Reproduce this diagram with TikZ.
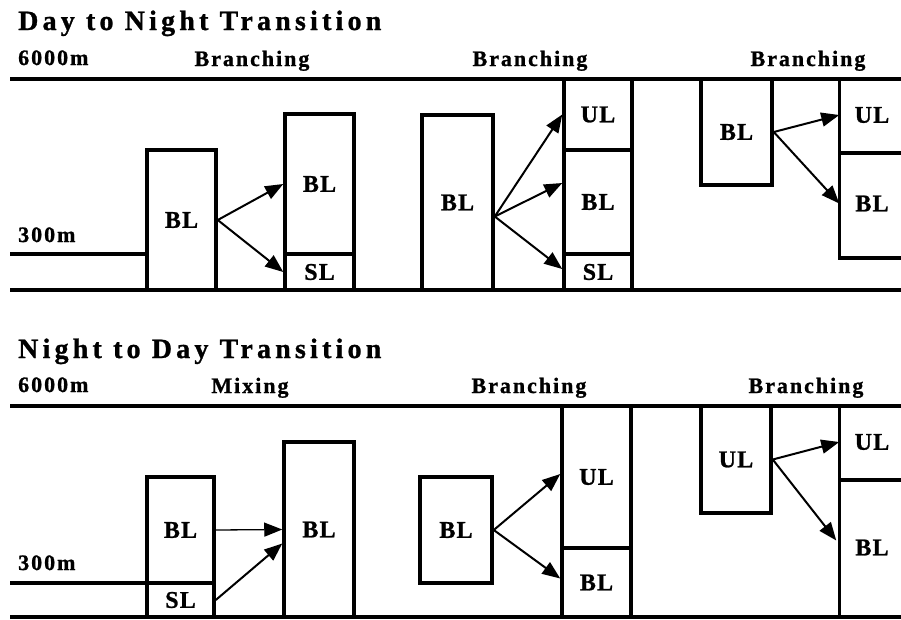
\documentclass[tikz,border=0pt]{standalone}
\usepackage{fontspec}
\setmainfont{Liberation Serif}
\newfontfamily\headfont[LetterSpace=15, FakeBold=1]{Liberation Serif}
\newfontfamily\tagfont[LetterSpace=9, FakeBold=1]{Liberation Serif}
\newfontfamily\cellfont[LetterSpace=5, FakeBold=1]{Liberation Serif}
\usetikzlibrary{arrows.meta}

\begin{document}
\begin{tikzpicture}[
  x=1pt, y=-1pt,
  title/.style={anchor=base west, inner sep=0pt,
                font=\headfont\bfseries\fontsize{28}{31}\selectfont},
  tag/.style={anchor=base, inner sep=0pt,
              font=\tagfont\bfseries\fontsize{22}{25}\selectfont},
  alt/.style={tag, anchor=base west},
  layer/.style={draw, line width=3.5pt, inner sep=0pt,
                font=\cellfont\bfseries\fontsize{24}{27}\selectfont},
  open/.style={layer, draw=none},
  edge/.style={line width=3.5pt},
  flow/.style={-{Triangle[length=18pt, width=14pt]}, line width=2pt},
  thin flow/.style={flow, line width=1.3pt},
]
\useasboundingbox (0,0) rectangle (901,619);

% ---- day to night ----
\node[title] (t1) at (18,30) {Day to Night Transition};
\node[alt] (hi1) at (18,65) {6000m};
\node[alt] (lo1) at (18,242) {300m};
\node[tag] (br1) at (252,66) {Branching};
\node[tag] (br2) at (530,66) {Branching};
\node[tag] (br3) at (808,66) {Branching};
\draw[edge] (10,79) -- (901,79);
\draw[edge] (10,290) -- (901,290);
\draw[edge] (10,254) -- (147,254);

\node[layer, minimum width=69, minimum height=140] (a1) at (181.5,220) {BL};
\node[layer, minimum width=69, minimum height=140] (a2) at (319.5,184) {BL};
\node[layer, minimum width=69, minimum height=36] (a2s) at (319.5,272) {SL};
\draw[flow] (a1.east) -- (a2.west);
\draw[flow] (a1.east) -- (a2s.west);

\node[layer, minimum width=71, minimum height=175] (b1) at (457.5,202.5) {BL};
\node[layer, minimum width=68, minimum height=71] (b2u) at (598,114.5) {UL};
\node[layer, minimum width=68, minimum height=104] (b2b) at (598,202) {BL};
\node[layer, minimum width=68, minimum height=36] (b2s) at (598,272) {SL};
\draw[flow] ([yshift=-14pt]b1.east) -- (b2u.west);
\draw[flow] ([yshift=-14pt]b1.east) -- ([yshift=19pt]b2b.west);
\draw[flow] ([yshift=-14pt]b1.east) -- ([yshift=3pt]b2s.west);

\node[layer, minimum width=71, minimum height=106] (c1) at (736.5,132) {BL};
\node[open, minimum width=62, minimum height=72] (c2u) at (872,115) {UL};
\node[open, minimum width=62, minimum height=105] (c2b) at (872,203.5) {BL};
\draw[edge] (c2u.north west) -- (c2b.south west) -- (c2b.south east);
\draw[edge] (c2u.south west) -- (c2u.south east);
\draw[flow] (c1.east) -- (c2u.west);
\draw[flow] (c1.east) -- (c2b.west);

% ---- night to day ----
\node[title] (t2) at (18,358) {Night to Day Transition};
\node[alt] (hi2) at (18,392) {6000m};
\node[alt] (lo2) at (18,570) {300m};
\node[tag] (mx1) at (250,393) {Mixing};
\node[tag] (br4) at (529,393) {Branching};
\node[tag] (br5) at (806,393) {Branching};
\draw[edge] (10,406) -- (901,406);
\draw[edge] (10,617) -- (901,617);
\draw[edge] (10,583) -- (147,583);

\node[layer, minimum width=67, minimum height=106] (d1) at (180.5,530) {BL};
\node[layer, minimum width=67, minimum height=34] (d1s) at (180.5,600) {SL};
\node[layer, minimum width=70, minimum height=175] (d2) at (319,529.5) {BL};
\draw[thin flow] (d1.east) -- (d2.west);
\draw[flow] (d1s.east) -- ([yshift=-14pt]d2.west);

\node[layer, minimum width=72, minimum height=106] (e1) at (456,530) {BL};
\node[layer, minimum width=69, minimum height=142] (e2u) at (596.5,477) {UL};
\node[layer, minimum width=69, minimum height=69] (e2b) at (596.5,582.5) {BL};
\draw[flow] (e1.east) -- ([yshift=3pt]e2u.west);
\draw[flow] (e1.east) -- ([yshift=4pt]e2b.west);

\node[layer, minimum width=70, minimum height=107] (f1) at (736,459.5) {UL};
\node[open, minimum width=62, minimum height=72] (f2u) at (872,442) {UL};
\node[open, minimum width=62, minimum height=139] (f2b) at (872,547.5) {BL};
\draw[edge] (f2u.north west) -- (f2b.south west);
\draw[edge] (f2u.south west) -- (f2u.south east);
\draw[flow] (f1.east) -- (f2u.west);
\draw[flow] (f1.east) -- ([xshift=-3pt, yshift=7pt]f2b.west);
\end{tikzpicture}
\end{document}
